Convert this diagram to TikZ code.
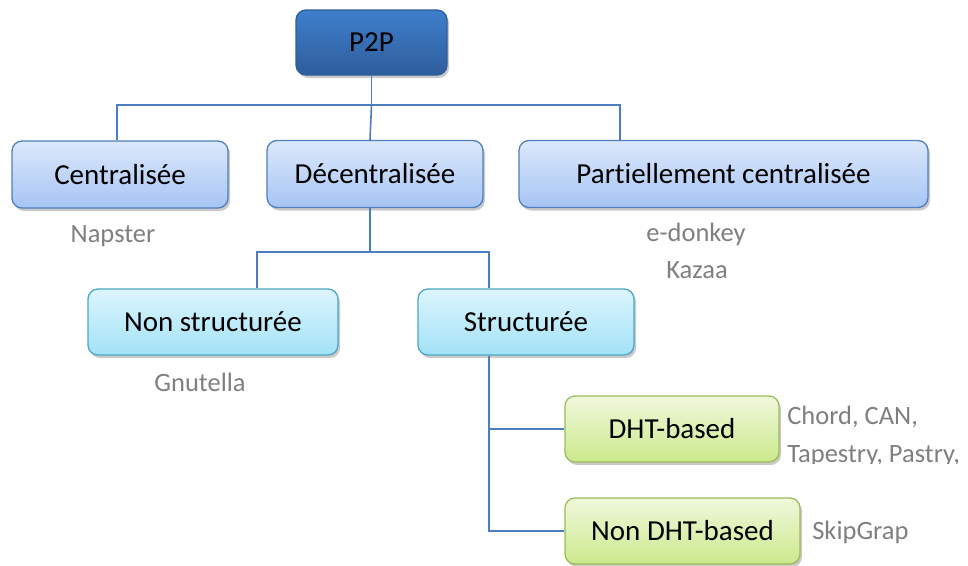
\documentclass[tikz,border=0pt]{standalone}
\usepackage{fontspec}
\setmainfont{Carlito}[Ligatures=NoCommon]
\usepackage{xcolor}
\usetikzlibrary{shadows}

\definecolor{topblue}{HTML}{3F7FCC}
\definecolor{topblueb}{HTML}{2E5D9B}
\definecolor{lvlA}{HTML}{DCE8FB}
\definecolor{lvlAb}{HTML}{A6C5F4}
\definecolor{lvlAline}{HTML}{4F7FBD}
\definecolor{lvlB}{HTML}{DDF5FD}
\definecolor{lvlBb}{HTML}{A2E2F7}
\definecolor{lvlBline}{HTML}{4BA8C4}
\definecolor{lvlC}{HTML}{F0F8DC}
\definecolor{lvlCb}{HTML}{CCE98C}
\definecolor{lvlCline}{HTML}{9BBB59}
\definecolor{linkcol}{HTML}{4A7EC0}
\definecolor{examplegray}{HTML}{7F7F7F}

\begin{document}
\begin{tikzpicture}[x=1pt,y=-1pt,semithick]
    \tikzstyle{every node}=[font=\fontsize{29}{34}\selectfont, inner sep=0pt]
    \tikzstyle{cat}=[rectangle, rounded corners=10pt, minimum height=67pt, line width=1.3pt,
        drop shadow={shadow xshift=2pt, shadow yshift=-3pt, fill=black!35, opacity=0.6}]
    \tikzstyle{root}=[cat, draw=topblueb, top color=topblue, bottom color=topblueb, minimum height=65pt]
    \tikzstyle{kindA}=[cat, draw=lvlAline, top color=lvlA, bottom color=lvlAb]
    \tikzstyle{kindB}=[cat, draw=lvlBline, top color=lvlB, bottom color=lvlBb, minimum height=66pt]
    \tikzstyle{kindC}=[cat, draw=lvlCline, top color=lvlC, bottom color=lvlCb, minimum height=66pt]
    \tikzstyle{sample}=[text=examplegray, font=\fontsize{26.5}{31}\selectfont]
    \tikzstyle{link}=[draw=linkcol, line width=1.6pt]
    \useasboundingbox (0,0) rectangle (968,565);

	\node [root, minimum width=151pt] (p2p) at (371.5, 42.5) {P2P};
	\node [kindA, minimum width=216pt] (central) at (120, 174.5) {Centralisée};
	\node [kindA, minimum width=216pt] (decentral) at (375, 174) {Décentralisée};
	\node [kindA, minimum width=409pt] (partial) at (723.5, 174) {Partiellement centralisée};
	\node [kindB, minimum width=250pt] (unstruct) at (213, 322) {Non structurée};
	\node [kindB, minimum width=216pt] (struct) at (526, 322) {Structurée};
	\node [kindC, minimum width=214pt] (dht) at (672, 429) {DHT-based};
	\node [kindC, minimum width=235pt] (nodht) at (682.5, 531) {Non DHT-based};

	\node [sample] (napster) at (113, 236) {Napster};
	\node [sample] (edonkey) at (696, 234) {e-donkey};
	\node [sample] (kazaa) at (697, 270) {Kazaa};
	\node [sample] (gnutella) at (200, 382) {Gnutella};
	\node [sample, anchor=west] (chord) at (787, 417) {Chord, CAN,};
	\begin{scope}
	\clip (780, 438) rectangle (968, 463);
	\node [sample, anchor=west] (tapestry) at (787, 456) {Tapestry, Pastry,};
	\end{scope}
	\node [sample, anchor=west] (skipgraph) at (812, 532) {SkipGrap};

	% links between the levels
	\draw [link] (p2p.south) -- ++(0, 29.5) coordinate (bar) -| ([xshift=-3pt]central.north);
	\draw [link] (bar) -| ([xshift=-103.5pt]partial.north);
	\draw [link] (bar) -- ([xshift=-5pt]decentral.north);
	\draw [link] ([xshift=-5pt]decentral.south) -- ++(0, 44) coordinate (bar2) -| ([xshift=44pt]unstruct.north);
	\draw [link] (bar2) -| ([xshift=-37pt]struct.north);
	\draw [link] ([xshift=-37pt]struct.south) |- (dht.west);
	\draw [link] ([xshift=-37pt]struct.south) |- (nodht.west);
\end{tikzpicture}
\end{document}
